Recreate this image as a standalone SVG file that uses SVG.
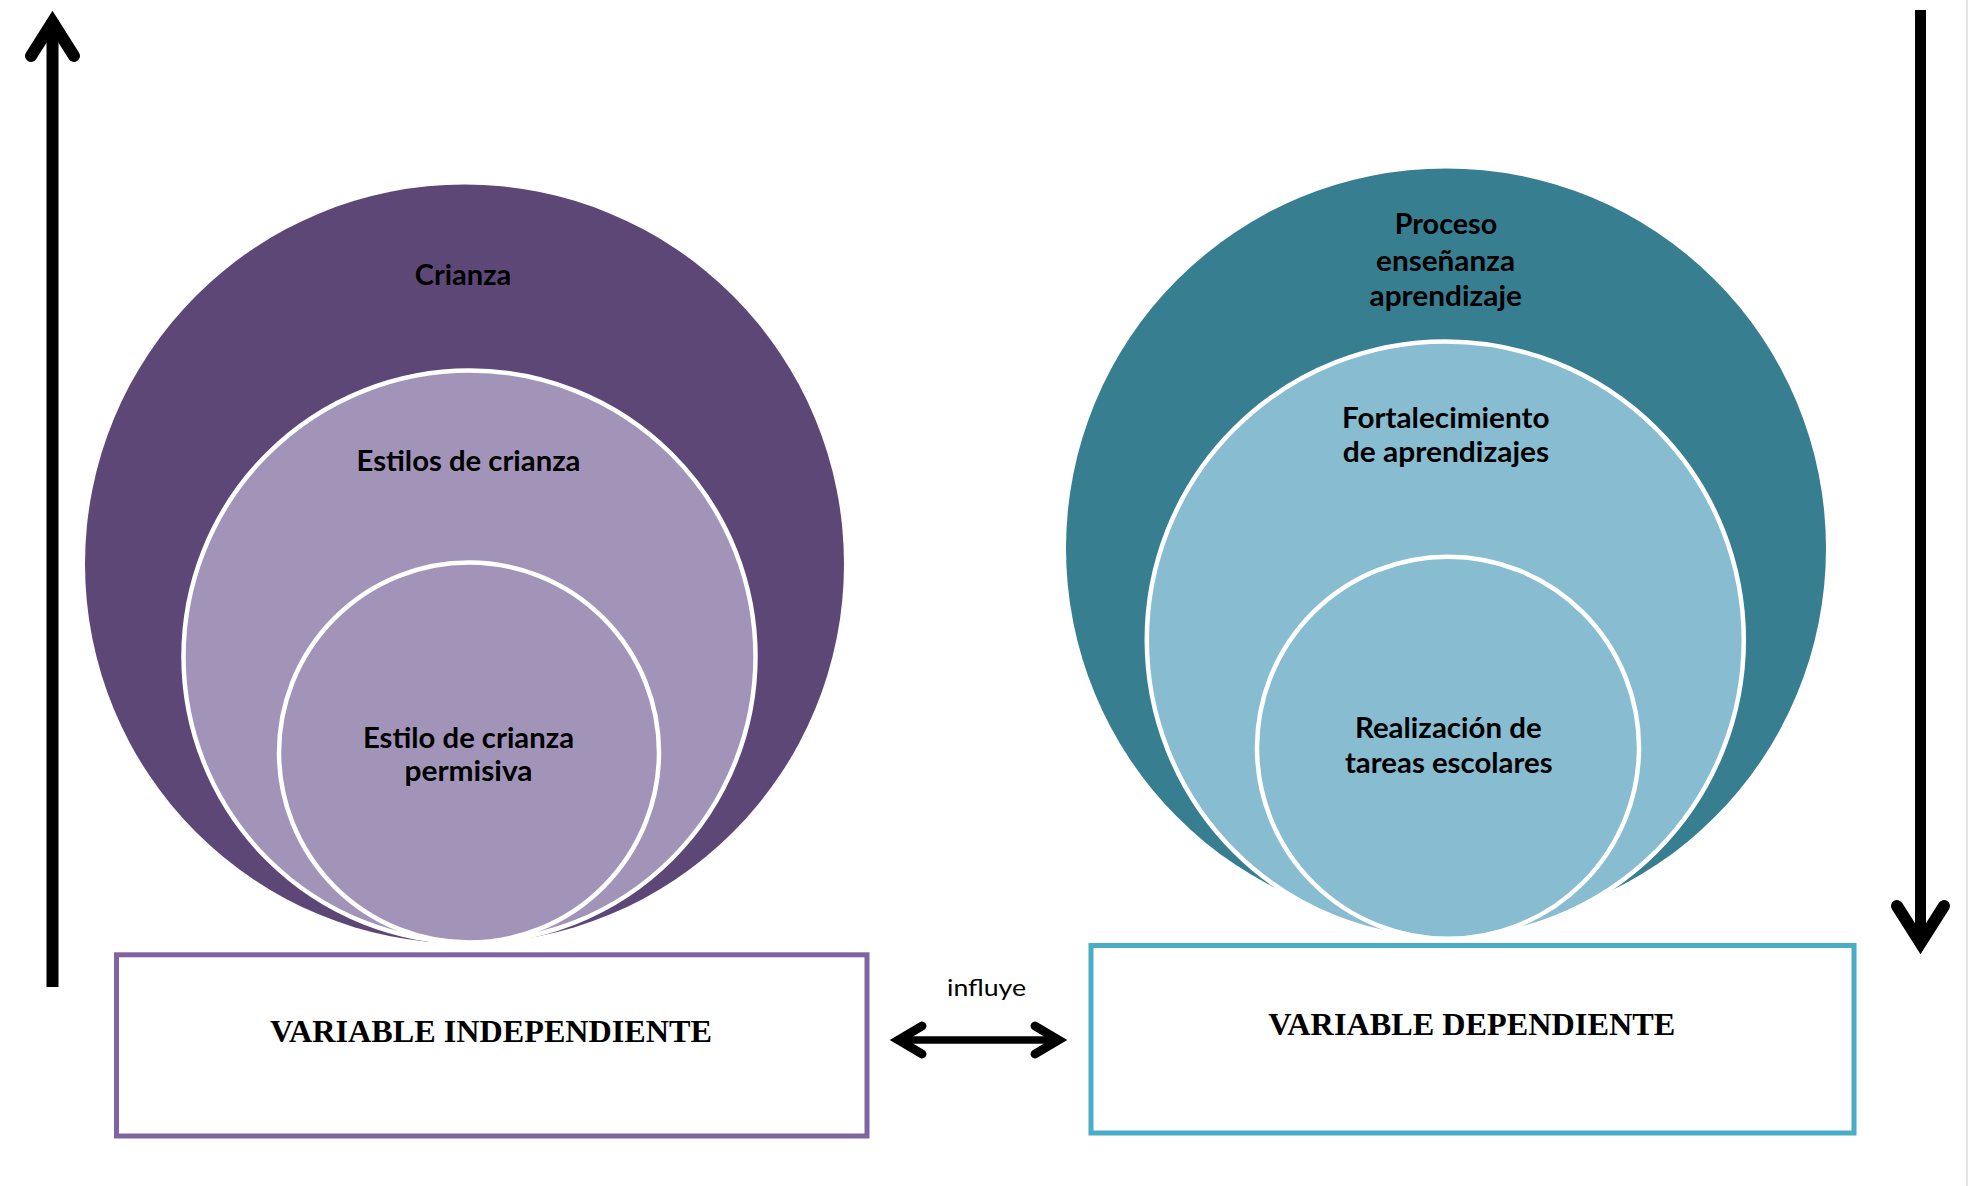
<svg xmlns="http://www.w3.org/2000/svg" width="1969" height="1186" viewBox="0 0 1969 1186">
<style>
.lbl{font-family:Lato,"Liberation Sans",sans-serif;font-weight:700;font-size:28px;fill:#000;text-anchor:middle}
.var{font-family:"Liberation Serif","Times New Roman",serif;font-weight:700;font-size:30.5px;fill:#000;text-anchor:middle}
.small{font-family:Lato,"Liberation Sans",sans-serif;font-weight:400;font-size:23px;fill:#000;text-anchor:middle}
.ring{stroke:#fff;stroke-width:4.5}
.conn{fill:none;stroke:#000}
.head{fill:none;stroke:#000;stroke-linejoin:miter;stroke-linecap:round}
</style>
<rect x="0" y="0" width="1969" height="1186" fill="#fff"/>
<line x1="1967" y1="0" x2="1967" y2="1186" stroke="#dcdcdc" stroke-width="1.5"/>

<g id="crianza">
<circle cx="464.5" cy="564" r="379.5" fill="#5D4777"/>
<text class="lbl" x="463" y="285" textLength="96.5" lengthAdjust="spacingAndGlyphs">Crianza</text>
</g>
<g id="estilos-de-crianza">
<circle class="ring" cx="469.5" cy="656.5" r="286" fill="#A294B9"/>
<text class="lbl" x="468.5" y="471" textLength="224" lengthAdjust="spacingAndGlyphs">Estilos de crianza</text>
</g>
<g id="estilo-permisivo">
<circle class="ring" cx="469" cy="752.5" r="190" fill="#A294B9"/>
<text class="lbl" x="468.5" y="747.5" textLength="211" lengthAdjust="spacingAndGlyphs">Estilo de crianza</text>
<text class="lbl" x="468.5" y="781" textLength="128" lengthAdjust="spacingAndGlyphs">permisiva</text>
</g>

<g id="proceso-ensenanza">
<circle cx="1446" cy="548.4" r="380" fill="#377E91"/>
<text class="lbl" x="1446" y="234" textLength="102.5" lengthAdjust="spacingAndGlyphs">Proceso</text>
<text class="lbl" x="1445.5" y="270.5" textLength="139" lengthAdjust="spacingAndGlyphs">enseñanza</text>
<text class="lbl" x="1445.7" y="306" textLength="152.4" lengthAdjust="spacingAndGlyphs">aprendizaje</text>
</g>
<g id="fortalecimiento">
<circle class="ring" cx="1445.3" cy="640" r="298.5" fill="#88BCD0"/>
<text class="lbl" x="1445.7" y="427.5" textLength="207.5" lengthAdjust="spacingAndGlyphs">Fortalecimiento</text>
<text class="lbl" x="1446" y="462.3" textLength="206.4" lengthAdjust="spacingAndGlyphs">de aprendizajes</text>
</g>
<g id="tareas-escolares">
<circle class="ring" cx="1448" cy="747.7" r="191" fill="#88BCD0"/>
<text class="lbl" x="1448.3" y="738.3" textLength="186.7" lengthAdjust="spacingAndGlyphs">Realización de</text>
<text class="lbl" x="1448.8" y="772.7" textLength="207.7" lengthAdjust="spacingAndGlyphs">tareas escolares</text>
</g>

<g id="variable-independiente">
<rect x="116.5" y="954.8" width="750.5" height="181.2" fill="#fff" stroke="#8064A2" stroke-width="5"/>
<text class="var" x="491" y="1041.5" textLength="442" lengthAdjust="spacingAndGlyphs">VARIABLE INDEPENDIENTE</text>
</g>
<g id="variable-dependiente">
<rect x="1091" y="945.5" width="763" height="187.5" fill="#fff" stroke="#4BACC6" stroke-width="5"/>
<text class="var" x="1471.7" y="1035" textLength="407" lengthAdjust="spacingAndGlyphs">VARIABLE DEPENDIENTE</text>
</g>

<g id="connectors">
<line class="conn" x1="52.5" y1="20" x2="52.5" y2="987" stroke-width="12"/>
<path class="head" d="M31,56 L52.5,22 L74,56" stroke-width="12"/>
<line class="conn" x1="1920.5" y1="10" x2="1920.5" y2="945" stroke-width="11"/>
<path class="head" d="M1897,906 L1920.5,943 L1944,906" stroke-width="12"/>
<line class="conn" x1="897" y1="1040" x2="1060" y2="1040" stroke-width="7.5"/>
<path class="head" d="M922,1026 L898.5,1040 L922,1054" stroke-width="9"/>
<path class="head" d="M1035,1026 L1058.5,1040 L1035,1054" stroke-width="9"/>
<text class="small" x="986.5" y="996" textLength="79" lengthAdjust="spacingAndGlyphs">influye</text>
</g>
</svg>
